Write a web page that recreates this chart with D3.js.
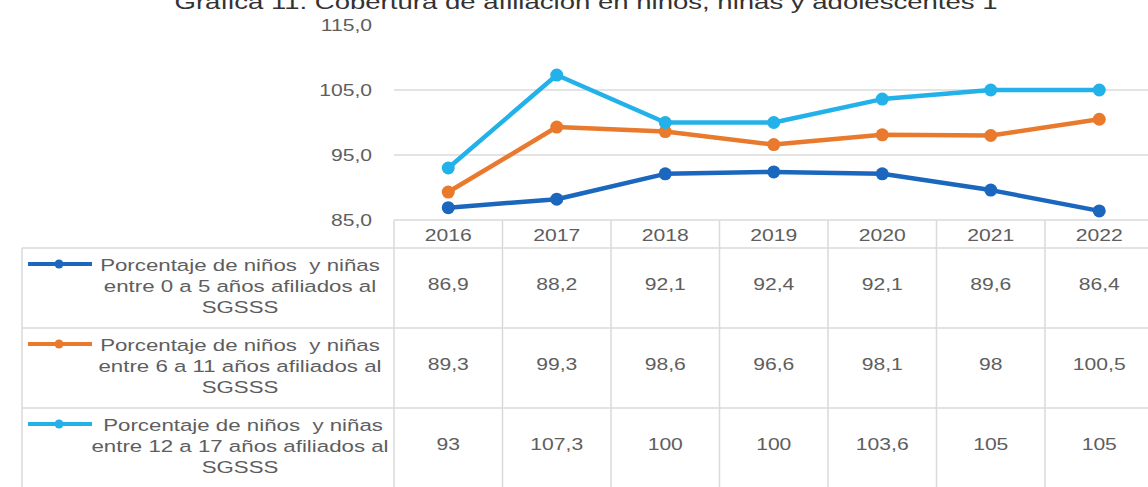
<!DOCTYPE html>
<html><head><meta charset="utf-8">
<script src="https://cdn.jsdelivr.net/npm/d3@7"></script>
<style>body{margin:0;background:#fff;overflow:hidden}svg{display:block}</style>
</head><body>
<svg id="c" width="1148" height="487"></svg>
<script>
const title = "Gráfica 11. Cobertura de afiliación en niños, niñas y adolescentes 1";
const years = ["2016","2017","2018","2019","2020","2021","2022"];
const seriesNames = [
  ["Porcentaje de niños  y niñas","entre 0 a 5 años afiliados al","SGSSS"],
  ["Porcentaje de niños  y niñas","entre 6 a 11 años afiliados al","SGSSS"],
  [" Porcentaje de niños  y niñas","entre 12 a 17 años afiliados al","SGSSS"]
];
const s0_5 = [86.9, 88.2, 92.1, 92.4, 92.1, 89.6, 86.4];
const s6_11 = [89.3, 99.3, 98.6, 96.6, 98.1, 98, 100.5];
const s12_17 = [93, 107.3, 100, 100, 103.6, 105, 105];
const tableLabels = [
  ["86,9","88,2","92,1","92,4","92,1","89,6","86,4"],
  ["89,3","99,3","98,6","96,6","98,1","98","100,5"],
  ["93","107,3","100","100","103,6","105","105"]
];
const yTicks = [85, 95, 105, 115];
const colors = ["#1b67bd", "#e97a2d", "#23b1e9"];

const series = [s0_5, s6_11, s12_17];
const svg = d3.select("#c");
const SX = 1.28;
const txtColor = "#5e5e5e";
const gridColor = "#dadada";
const font = "'Liberation Sans', Arial, sans-serif";

const x = d3.scaleBand().domain(years).range([394, 1153.5]).padding(0);
const y = d3.scaleLinear().domain([85, 115]).range([220, 25]);
const rowTop = 248, rowH = 80;
const row = d3.scaleBand().domain(d3.range(3)).range([rowTop, rowTop + 3*rowH]);

function stext(g, tx, ty, str, opts) {
  return g.append("text")
    .attr("transform", `translate(${tx},${ty}) scale(${opts.sx||SX},1)`)
    .attr("text-anchor", opts.anchor || "middle")
    .attr("dominant-baseline", "central")
    .attr("font-family", opts.family || font)
    .attr("font-size", opts.size || 16.5)
    .attr("fill", opts.fill || txtColor)
    .attr("xml:space", "preserve")
    .text(str);
}

// title (clipped at top, as in the reference)
svg.append("text").attr("x", 586).attr("y", 9)
  .attr("text-anchor", "middle").attr("font-family", font)
  .attr("font-size", 20).attr("fill", "#333")
  .attr("textLength", 823).attr("lengthAdjust", "spacingAndGlyphs")
  .text(title);

// gridlines
svg.append("g").selectAll("line").data(yTicks.filter(t => t > 85 && t < 115)).join("line")
  .attr("x1", 394).attr("x2", 1148)
  .attr("y1", d => y(d)).attr("y2", d => y(d))
  .attr("stroke", gridColor).attr("stroke-width", 1.5);

// y-axis labels
const yg = svg.append("g");
yTicks.forEach(t => stext(yg, 372, y(t), d3.format(".1f")(t).replace(".", ","), {anchor: "end"}));

// table lines
const tg = svg.append("g").attr("stroke", gridColor).attr("stroke-width", 1.5);
tg.append("line").attr("x1", 394).attr("x2", 1148).attr("y1", 220).attr("y2", 220);
[0,1,2].forEach(i => tg.append("line").attr("x1", 22).attr("x2", 1148)
  .attr("y1", row(i)).attr("y2", row(i)));
tg.append("line").attr("x1", 22).attr("x2", 22).attr("y1", rowTop).attr("y2", 487);
years.forEach(yr => tg.append("line").attr("x1", x(yr)).attr("x2", x(yr)).attr("y1", 220).attr("y2", 487));

// year headers
const hg = svg.append("g");
years.forEach(yr => stext(hg, x(yr) + x.bandwidth()/2, 235, yr, {}));

// table values and legend labels
const vg = svg.append("g");
series.forEach((s, i) => {
  const cy = row(i) + rowH/2;
  tableLabels[i].forEach((v, j) => stext(vg, x(years[j]) + x.bandwidth()/2, cy - 4, v, {}));
  seriesNames[i].forEach((ln, k) => stext(vg, 240, cy - 23 + k*21, ln, {sx: 1.35}));
  const ly = cy - 24;
  vg.append("line").attr("x1", 28).attr("x2", 92).attr("y1", ly).attr("y2", ly)
    .attr("stroke", colors[i]).attr("stroke-width", 4);
  vg.append("circle").attr("cx", 59).attr("cy", ly).attr("r", 4.5).attr("fill", colors[i]);
});

// lines
const line = d3.line().x((d, j) => x(years[j]) + x.bandwidth()/2).y(d => y(d));
const lg = svg.append("g");
series.forEach((s, i) => {
  lg.append("path").datum(s).attr("d", line).attr("fill", "none")
    .attr("stroke", colors[i]).attr("stroke-width", 4.5).attr("stroke-linejoin", "round");
  lg.selectAll(null).data(s).join("circle")
    .attr("cx", (d, j) => x(years[j]) + x.bandwidth()/2).attr("cy", d => y(d))
    .attr("r", 6.5).attr("fill", colors[i]);
});
</script>
</body></html>
